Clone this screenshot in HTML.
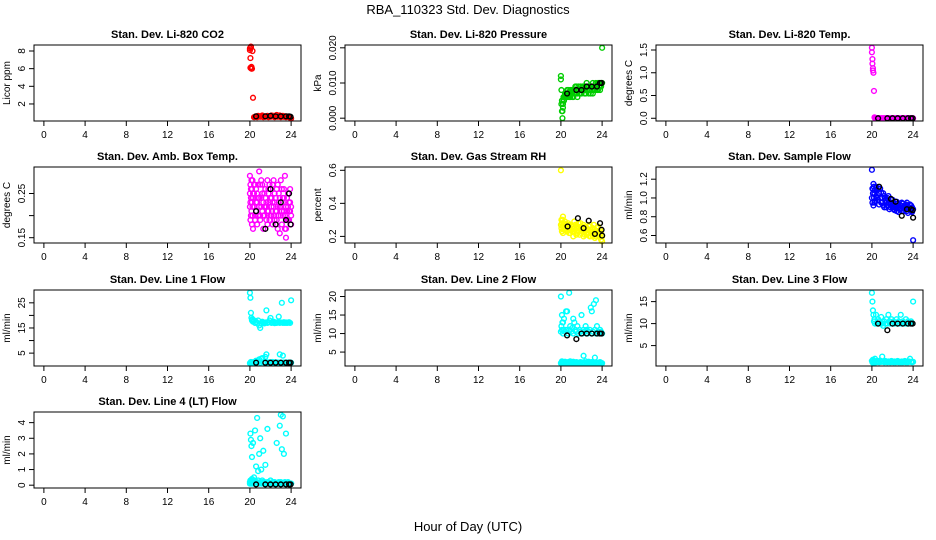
<!DOCTYPE html>
<html><head><meta charset="utf-8"><style>
body{margin:0;background:#fff}svg{display:block;font-family:"Liberation Sans",sans-serif}
</style></head><body>
<svg id="c" width="936" height="540" viewBox="0 0 936 540">
<text x="468" y="14" text-anchor="middle" font-size="13">RBA_110323  Std. Dev. Diagnostics</text>
<text x="468" y="531" text-anchor="middle" font-size="13">Hour of Day (UTC)</text>
</svg>
<script>
const hrs=[20.0,20.05,20.1,20.15,20.2,20.25,20.3,20.4,20.5,20.6,20.7,20.8,20.9,21.0,21.1,21.2,21.3,21.4,21.5,21.6,21.7,21.8,21.9,22.0,22.1,22.2,22.3,22.4,22.5,22.6,22.7,22.8,22.9,23.0,23.1,23.2,23.3,23.4,23.5,23.6,23.7,23.8,23.9,24.0];
const xTicks=[0,4,8,12,16,20,24];
const blkHrs=[20.6,21.5,22.0,22.5,23.0,23.5,23.8,23.95];

const co2A=[8.3,7.2,8.4,6.2,6.0,8.0,2.7,0.5,0.55,0.6,0.5,0.65,0.6,0.55,0.6,0.7,0.5,0.6,0.55,0.6,0.65,0.5,0.6,0.55,0.7,0.6,0.65,0.5,0.6,0.75,0.55,0.6,0.7,0.5,0.6,0.65,0.55,0.6,0.5,0.6,0.55,0.5,0.45,0.35];
const co2B=[8.1,6.1,8.5,6.0];
const co2Blk=[0.6,0.6,0.65,0.6,0.6,0.6,0.6,0.55];

const presA=[0.012,0.004,0.002,0.0,0.003,0.005,0.006,0.007,0.006,0.008,0.007,0.006,0.008,0.007,0.006,0.008,0.007,0.009,0.008,0.007,0.009,0.008,0.007,0.008,0.009,0.008,0.007,0.009,0.010,0.008,0.009,0.008,0.007,0.009,0.010,0.008,0.009,0.010,0.009,0.008,0.010,0.009,0.010,0.020];
const presB=[0.011,0.008,0.005,0.002,0.004,0.006,0.005,0.006,0.007,0.006,0.008,0.007,0.006,0.008,0.007,0.006,0.008,0.007,0.009,0.006,0.008,0.007,0.009,0.007,0.008,0.009,0.008,0.007,0.008,0.009,0.007,0.008,0.009,0.008,0.007,0.009,0.008,0.009,0.008,0.010,0.009,0.008,0.009,0.010];
const presBlk=[0.007,0.008,0.008,0.009,0.009,0.009,0.010,0.010];

const tempA=[1.55,1.3,1.1,1.0,0.6,0.02,0,0,0,0,0,0,0,0,0,0,0,0,0,0,0,0,0,0,0,0,0,0,0,0,0,0,0,0,0,0,0,0,0,0,0,0,0,0];
const tempB=[1.45,1.2,1.05];
const tempBlk=[0,0,0,0,0,0,0,0];

const ambA=[0.29,0.27,0.24,0.21,0.18,0.28,0.25,0.22,0.19,0.26,0.23,0.20,0.30,0.27,0.24,0.21,0.17,0.25,0.22,0.19,0.28,0.26,0.23,0.20,0.24,0.18,0.22,0.25,0.21,0.19,0.27,0.23,0.16,0.22,0.26,0.2,0.24,0.29,0.22,0.19,0.25,0.21,0.23,0.2];
const ambB=[0.22,0.19,0.26,0.28,0.23,0.2,0.17,0.25,0.27,0.21,0.18,0.24,0.22,0.19,0.28,0.25,0.23,0.2,0.26,0.22,0.18,0.21,0.27,0.24,0.2,0.23,0.28,0.19,0.24,0.21,0.17,0.25,0.22,0.2,0.18,0.24,0.21,0.2,0.17,0.24,0.22,0.19,0.21,0.18];
const ambC=[0.25,0.23,0.2,0.24,0.26,0.22,0.24,0.27,0.2,0.23,0.25,0.27,0.24,0.2,0.22,0.27,0.2,0.22,0.24,0.23,0.21,0.25,0.19,0.26,0.22,0.27,0.2,0.23,0.18,0.26,0.22,0.2,0.24,0.28,0.21,0.23,0.26,0.17,0.15,0.21,0.19,0.23,0.26,0.22];
const ambBlk=[0.21,0.17,0.26,0.18,0.23,0.19,0.25,0.18];

const rhA=[0.6,0.3,0.28,0.26,0.32,0.25,0.27,0.29,0.24,0.26,0.28,0.22,0.25,0.27,0.23,0.26,0.29,0.24,0.21,0.26,0.23,0.25,0.28,0.22,0.24,0.2,0.23,0.26,0.21,0.24,0.22,0.27,0.2,0.23,0.25,0.21,0.19,0.23,0.22,0.26,0.2,0.24,0.18,0.17];
const rhB=[0.27,0.25,0.23,0.3,0.22,0.28,0.24,0.26,0.27,0.23,0.25,0.27,0.22,0.24,0.26,0.2,0.23,0.27,0.25,0.22,0.28,0.21,0.24,0.26,0.23,0.27,0.21,0.24,0.25,0.22,0.26,0.2,0.24,0.22,0.2,0.27,0.24,0.2,0.25,0.21,0.23,0.2,0.22,0.2];
const rhBlkHrs=[20.65,21.65,22.2,22.7,23.3,23.8,23.95,24.0];
const rhBlk=[0.26,0.31,0.25,0.295,0.215,0.28,0.24,0.205];

const sfA=[1.3,1.1,1.05,1.15,1.0,0.95,1.08,1.12,1.0,0.98,1.05,1.1,0.95,1.0,0.92,1.02,0.97,0.9,1.0,0.95,0.88,0.93,0.98,0.9,0.95,0.87,0.92,0.96,0.9,0.85,0.93,0.88,0.95,0.9,0.86,0.92,0.88,0.95,0.84,0.9,0.87,0.92,0.85,0.55];
const sfB=[1.0,0.95,1.1,0.92,1.12,1.05,0.97,1.02,1.08,1.1,0.93,1.0,1.06,0.95,1.05,0.9,1.0,0.95,0.92,1.02,0.96,0.9,0.94,0.98,0.88,0.93,0.9,0.86,0.94,0.9,0.88,0.92,0.86,0.94,0.9,0.88,0.93,0.86,0.91,0.88,0.93,0.86,0.9,0.88];
const sfBlkHrs=[20.7,21.85,22.3,22.9,23.4,23.8,23.95,24.0];
const sfBlk=[1.12,0.99,0.96,0.81,0.88,0.88,0.87,0.79];

const l1A=[29,27,21,19,18,18.5,17.5,18,17,17.5,17,18,16,15,17,17.5,17,16.8,17.2,22,17,17.3,18,19,17,17.2,17.5,16.9,17.2,17,17.3,19.5,17,17.2,25,17,17.3,17,17.2,17,17.1,17.3,17,26];
const l1B=[1,1.2,1.5,1.0,1.3,1.2,1.4,1.0,1.5,2,1.3,1.6,2.5,1.2,2.8,3,1.4,1.2,3.5,4.5,1.3,1.2,1.4,1.3,1.2,1.5,1.3,1.2,1.4,1.2,1.3,1.2,4.5,1.3,1.2,4.0,1.3,1.2,1.3,1.2,1.3,1.2,1.3,1.2];
const l1Blk=[1.2,1.2,1.2,1.2,1.2,1.2,1.2,1.2];

const l2A=[10.5,12,11,13,10,11,14,10.5,11,16,10,11,12,10.5,11.5,10,13,11,10.5,12,10,11,10.5,15,10,11,10.5,12,11,10,10.5,11,17,10,10.5,18,11,10,12,10.5,10,11,10.5,10];
const l2B=[2,2.2,2.5,2,2.3,2.1,2,2.4,2.2,2,2.3,2.1,2.5,2.2,2,2.4,2.1,2,2.3,2.2,2,2.1,2.3,2,2.2,4,2.1,2.5,2,2.2,2.4,2.1,2,2.3,2.1,2,3.5,2.2,2,2.1,2,2.3,2.1,2];
const l2C=[20,null,15,null,13,null,null,null,16,null,null,21,null,null,null,14,null,null,null,null,null,null,null,null,null,null,null,null,null,null,null,null,null,16,null,null,null,19,null,null,null,null,null,null];
const l2Blk=[9.5,8.5,10,10,10,10,10,10];

const l3A=[17,15,13,12,10.5,11,10,12,10,11,10.5,10,11.5,10,9.5,10.5,10,11,10,12,10.5,10,11,10,10.5,10,10.2,11,10,10.5,10,12,10,10.5,10.2,10,11,10,10.5,10,10.2,10.5,10,15];
const l3B=[1.5,1.2,1.8,1,1.5,1.3,2,1.2,1.5,1.4,1.2,1.6,1.3,2.5,1.4,1.2,1.5,1.3,1.2,1.4,1.3,1.2,1.5,1.3,1.2,1.4,1.2,1.3,1.5,1.2,1.3,1.2,1.4,1.2,1.3,1.5,1.2,1.3,1.2,1.4,2,1.3,1.2,1.3];
const l3Blk=[10,8.5,10,10,10,10,10,10];

const l4A=[0.2,3.3,2.9,2.5,1.8,0.3,2.7,0.5,3.5,1.2,4.3,0.9,2.0,3.0,1.0,0.3,2.2,0.2,1.3,0.1,3.6,0.2,0.1,0.3,0.1,0.2,0.1,0.2,0.1,2.7,0.1,0.2,3.8,4.5,2.3,4.4,2.0,0.2,3.3,0.1,0.2,0.1,0.1,0.1];
const l4B=[0.1,0.3,0.2,0.1,0.4,0.2,0.1,0.3,0.2,0.1,0.2,0.3,0.1,0.2,0.1,0.2,0.1,0.2,0.1,0.1,0.2,0.1,0.1,0.1,0.1,0.1,0.1,0.1,0.1,0.1,0.1,0.1,0.1,0.2,0.1,0.1,0.1,0.1,0.1,0.1,0.1,0.1,0.1,0.1];
const l4Blk=[0.05,0.05,0.05,0.05,0.05,0.05,0.05,0.05];

const panels=[
 {t:"Stan. Dev. Li-820 CO2",yl:"Licor ppm",c:"#ff0000",col:0,row:0,ymin:0.07,ymax:8.68,ticks:[2,4,6,8],lab:["2","4","6","8"],s:[co2A,co2B],bh:blkHrs,b:co2Blk},
 {t:"Stan. Dev. Li-820 Pressure",yl:"kPa",c:"#00cd00",col:1,row:0,ymin:-0.0008,ymax:0.0208,ticks:[0,0.01,0.02],lab:["0.000","0.010","0.020"],s:[presA,presB],bh:blkHrs,b:presBlk},
 {t:"Stan. Dev. Li-820 Temp.",yl:"degrees C",c:"#ff00ff",col:2,row:0,ymin:-0.06,ymax:1.61,ticks:[0,0.5,1,1.5],lab:["0.0","0.5","1.0","1.5"],s:[tempA,tempB],bh:blkHrs,b:tempBlk},
 {t:"Stan. Dev. Amb. Box Temp.",yl:"degrees C",c:"#ff00ff",col:0,row:1,ymin:0.138,ymax:0.31,ticks:[0.15,0.2,0.25],lab:["0.15","","0.25"],s:[ambA,ambB,ambC],bh:blkHrs,b:ambBlk},
 {t:"Stan. Dev. Gas Stream RH",yl:"percent",c:"#ffff00",col:1,row:1,ymin:0.16,ymax:0.62,ticks:[0.2,0.4,0.6],lab:["0.2","0.4","0.6"],s:[rhA,rhB],bh:rhBlkHrs,b:rhBlk},
 {t:"Stan. Dev. Sample Flow",yl:"ml/min",c:"#0000ff",col:2,row:1,ymin:0.52,ymax:1.33,ticks:[0.6,0.8,1.0,1.2],lab:["0.6","0.8","1.0","1.2"],s:[sfA,sfB],bh:sfBlkHrs,b:sfBlk},
 {t:"Stan. Dev. Line 1 Flow",yl:"ml/min",c:"#00ffff",col:0,row:2,ymin:-0.12,ymax:30.1,ticks:[5,10,15,20,25],lab:["5","","15","","25"],s:[l1A,l1B],bh:blkHrs,b:l1Blk},
 {t:"Stan. Dev. Line 2 Flow",yl:"ml/min",c:"#00ffff",col:1,row:2,ymin:1.24,ymax:21.76,ticks:[5,10,15,20],lab:["5","10","15","20"],s:[l2A,l2B,l2C],bh:blkHrs,b:l2Blk},
 {t:"Stan. Dev. Line 3 Flow",yl:"ml/min",c:"#00ffff",col:2,row:2,ymin:0.36,ymax:17.64,ticks:[5,10,15],lab:["5","10","15"],s:[l3A,l3B],bh:blkHrs,b:l3Blk},
 {t:"Stan. Dev. Line 4 (LT) Flow",yl:"ml/min",c:"#00ffff",col:0,row:3,ymin:-0.18,ymax:4.68,ticks:[0,1,2,3,4],lab:["0","1","2","3","4"],s:[l4A,l4B],bh:blkHrs,b:l4Blk}
];

const svg=document.getElementById('c');
const NS="http://www.w3.org/2000/svg";
function mk(tag,attrs,parent){const e=document.createElementNS(NS,tag);for(const k in attrs)e.setAttribute(k,attrs[k]);(parent||svg).appendChild(e);return e;}
const colL=[34,345,656],rowT=[45,167,290,412],W=267,H=76,XMIN=-0.96,XMAX=24.96;
panels.forEach((p,i)=>{
 const g=mk('g',{});
 
 
 const L=colL[p.col],T=rowT[p.row];
 const xs=v=>L+(v-XMIN)/(XMAX-XMIN)*W;
 const ys=v=>T+H-(v-p.ymin)/(p.ymax-p.ymin)*H;
 const tt=mk('text',{x:L+W/2,y:T-7,'text-anchor':'middle','font-size':11,'font-weight':'bold'},g);tt.textContent=p.t;
 
 
 const yl=mk('text',{x:0,y:0,transform:`translate(${L-24},${T+H/2}) rotate(-90)`,'text-anchor':'middle','font-size':10},g);yl.textContent=p.yl;
 
 
 p.s.forEach(arr=>arr.forEach((v,j)=>{if(v==null)return;const c=mk('circle',{cx:xs(hrs[j]),cy:ys(v),r:2.4,fill:'none',stroke:p.c,'stroke-width':1.4},g);
  
  }));
 p.b.forEach((v,j)=>{const c=mk('circle',{cx:xs(p.bh[j]),cy:ys(v),r:2.4,fill:'none',stroke:'#000','stroke-width':1.4},g);
  
  });
 const box=mk('rect',{x:L,y:T,width:W,height:H,fill:'none',stroke:'#000','stroke-width':1},g);
 
 
 xTicks.forEach(v=>{const x=xs(v);mk('line',{x1:x,x2:x,y1:T+H,y2:T+H+5,stroke:'#000'},g);
  const t=mk('text',{x:x,y:T+H+17,'text-anchor':'middle','font-size':10},g);t.textContent=v;
  
  });
 p.ticks.forEach((v,j)=>{const y=ys(v);mk('line',{x1:L-5,x2:L,y1:y,y2:y,stroke:'#000'},g);
  if(!p.lab[j])return;
  const t=mk('text',{x:0,y:0,transform:`translate(${L-9},${y}) rotate(-90)`,'text-anchor':'middle','font-size':10},g);t.textContent=p.lab[j];
  
  });
});
</script>
</body></html>
